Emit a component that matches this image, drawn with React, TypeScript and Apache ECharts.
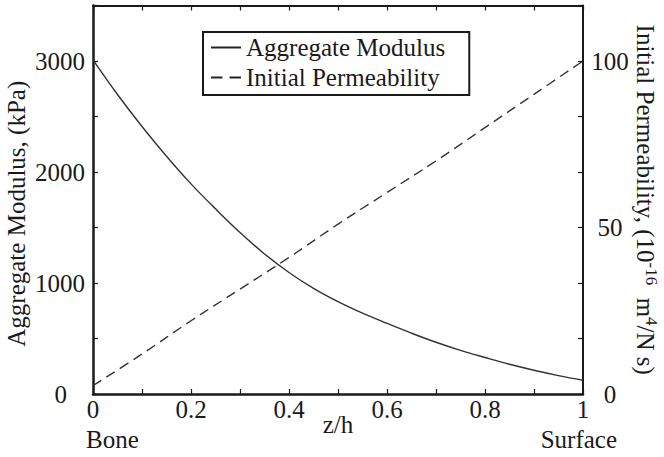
import React, { useEffect, useRef } from "react";
import * as echarts from "echarts";

const zValues = [0, 0.05, 0.1, 0.15, 0.2, 0.25, 0.3, 0.35, 0.4, 0.45, 0.5, 0.55, 0.6, 0.65, 0.7, 0.75, 0.8, 0.85, 0.9, 0.95, 1.0];
const aggregateModulus = [3010, 2698, 2410, 2142, 1893, 1668, 1455, 1262, 1095, 952, 832, 728, 636, 548, 466, 393, 329, 268, 214, 166, 124];
const zPerm = [0, 0.1, 0.2, 0.3, 0.4, 0.5, 0.6, 0.7, 0.8, 0.9, 1.0];
const initialPermeability = [2.5, 12, 22, 31.5, 41, 51, 60.5, 70, 80, 90, 100];

const FONT = "Liberation Serif";
const INK = "#1a1a1a";
const FS = 25;

export default function App() {
  const ref = useRef<HTMLDivElement>(null);
  useEffect(() => {
    if (!ref.current) return;
    const chart = echarts.init(ref.current, undefined, { renderer: "svg" });
    const near = (a: number, b: number) => Math.abs(a - b) < 1e-6;
    const option: any = {
      animation: false,
      backgroundColor: "#ffffff",
      textStyle: { fontFamily: FONT, color: INK },
      grid: { left: 93, right: 81, top: 5.5, bottom: 63, show: false, containLabel: false, outerBoundsMode: "none" },
      legend: {
        orient: "vertical",
        left: 203,
        top: 32,
        padding: [3, 24, 5, 8],
        itemGap: 5,
        itemWidth: 30,
        itemHeight: 2,
        symbolKeepAspect: false,
        borderColor: INK,
        borderWidth: 2,
        borderRadius: 0,
        backgroundColor: "#ffffff",
        textStyle: { fontFamily: FONT, fontSize: FS, color: INK, padding: [0, 0, 0, 0] },
        data: [
          { name: "Aggregate Modulus", icon: "path://M2,0 L30,0 L30,2 L2,2 Z", itemStyle: { color: "#222222" } },
          {
            name: "Initial Permeability",
            icon: "path://M0,0 L11,0 L11,2 L0,2 Z M18,0 L29,0 L29,2 L18,2 Z",
            itemStyle: { color: "#222222" },
          },
        ],
      },
      xAxis: [
        {
          type: "value",
          min: 0,
          max: 1,
          interval: 0.1,
          position: "bottom",
          name: "z/h",
          nameLocation: "middle",
          nameGap: 18,
          nameMoveOverlap: false,
          nameTextStyle: { fontFamily: FONT, fontSize: FS, color: INK },
          axisLine: { show: true, onZero: false, lineStyle: { color: INK, width: 2.5 } },
          axisTick: { show: true, inside: true, length: 5, lineStyle: { color: INK, width: 1.2 } },
          axisLabel: {
            margin: 3,
            fontFamily: FONT,
            fontSize: FS,
            color: INK,
            formatter: (v: number) => (near(v * 5, Math.round(v * 5)) ? String(+v.toFixed(1)) : ""),
          },
          splitLine: { show: false },
        },
        {
          type: "value",
          min: 0,
          max: 1,
          interval: 0.1,
          position: "top",
          axisLine: { show: true, onZero: false, lineStyle: { color: INK, width: 2 } },
          axisTick: { show: true, inside: true, length: 5, lineStyle: { color: INK, width: 1.2 } },
          axisLabel: { show: false },
          splitLine: { show: false },
        },
      ],
      yAxis: [
        {
          type: "value",
          min: 0,
          max: 3500,
          interval: 500,
          position: "left",
          name: "Aggregate Modulus, (kPa)",
          nameLocation: "middle",
          nameRotate: 90,
          nameGap: 64,
          nameMoveOverlap: false,
          nameTextStyle: { fontFamily: FONT, fontSize: FS, color: INK, padding: [0, 28, 0, 0] },
          axisLine: { show: true, onZero: false, lineStyle: { color: INK, width: 2.5 } },
          axisTick: { show: true, inside: true, length: 5, lineStyle: { color: INK, width: 1.2 } },
          axisLabel: {
            margin: 8,
            fontFamily: FONT,
            fontSize: FS,
            color: INK,
            formatter: (v: number) => (v % 1000 === 0 ? (v === 0 ? "{z|0}" : String(v)) : ""),
            rich: { z: { fontFamily: FONT, fontSize: FS, color: INK, padding: [0, 18, 0, 0] } },
          },
          splitLine: { show: false },
        },
        {
          type: "value",
          min: 0,
          max: 350 / 3,
          interval: 50 / 3,
          position: "right",
          name: "{a|Initial Permeability, (10}{s|-16}{a|  m}{s|4}{a|/N s)}",
          nameLocation: "middle",
          nameRotate: -90,
          nameGap: 47,
          nameMoveOverlap: false,
          nameTextStyle: {
            fontFamily: FONT,
            fontSize: FS,
            color: INK,
            rich: {
              a: { fontFamily: FONT, fontSize: FS, color: INK, lineHeight: 30 },
              s: { fontFamily: FONT, fontSize: 17, color: INK, lineHeight: 17, verticalAlign: "top" },
            },
          },
          axisLine: { show: true, onZero: false, lineStyle: { color: INK, width: 2 } },
          axisTick: { show: true, inside: true, length: 5, lineStyle: { color: INK, width: 1.2 } },
          axisLabel: {
            margin: 27,
            align: "center",
            fontFamily: FONT,
            fontSize: FS,
            color: INK,
            formatter: (v: number) => (near(v / 50, Math.round(v / 50)) ? String(Math.round(v)) : ""),
          },
          splitLine: { show: false },
        },
      ],
      series: [
        {
          name: "Aggregate Modulus",
          type: "line",
          xAxisIndex: 0,
          yAxisIndex: 0,
          smooth: 0.4,
          symbol: "none",
          lineStyle: { color: "#333333", width: 1.4, type: "solid" },
          itemStyle: { color: "#333333" },
          data: zValues.map((z, i) => [z, aggregateModulus[i]]),
        },
        {
          name: "Initial Permeability",
          type: "line",
          xAxisIndex: 0,
          yAxisIndex: 1,
          smooth: 0.4,
          symbol: "none",
          lineStyle: { color: "#333333", width: 1.4, type: [10, 6] },
          itemStyle: { color: "#333333" },
          data: zPerm.map((z, i) => [z, initialPermeability[i]]),
        },
      ],
      graphic: [
        {
          type: "text",
          left: 86,
          top: 427,
          style: { text: "Bone", fontFamily: FONT, fontSize: FS, fill: INK },
        },
        {
          type: "text",
          right: 47,
          top: 427,
          style: { text: "Surface", fontFamily: FONT, fontSize: FS, fill: INK },
        },
      ],
    };
    chart.setOption(option);
    return () => chart.dispose();
  }, []);
  return <div ref={ref} style={{ width: 664, height: 457, position: "absolute", left: 0, top: 0 }} />;
}
